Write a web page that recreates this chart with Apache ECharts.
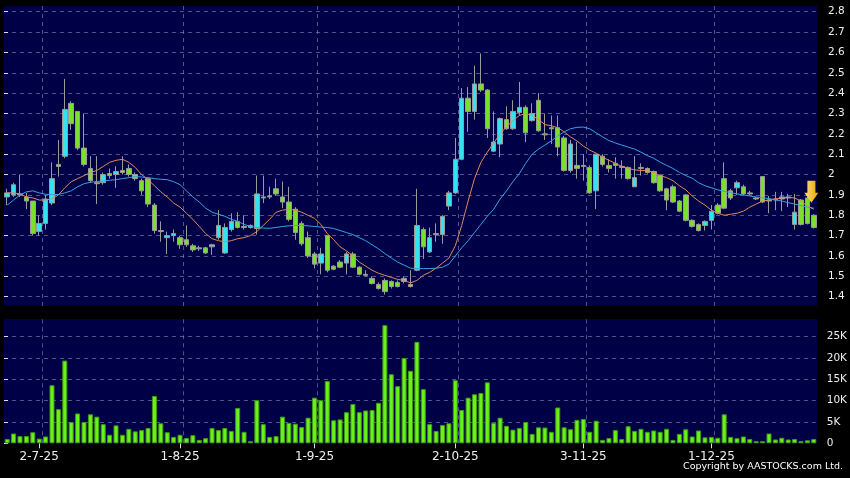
<!DOCTYPE html>
<html>
<head>
<meta charset="utf-8">
<title>Daily chart</title>
<script src="https://cdn.jsdelivr.net/npm/echarts@6.0.0/dist/echarts.min.js"></script>
<style>
html, body { margin: 0; padding: 0; background: #000; }
#main { width: 850px; height: 478px; }
</style>
</head>
<body>
<div id="main"></div>
<script>
// trading days shown on the chart
const dates = [
  '24-6-25', '25-6-25', '26-6-25', '27-6-25', '30-6-25',
  '2-7-25', '3-7-25', '4-7-25', '7-7-25', '8-7-25', '9-7-25', '10-7-25', '11-7-25', '14-7-25', '15-7-25', '16-7-25',
  '17-7-25', '18-7-25', '21-7-25', '22-7-25', '23-7-25', '24-7-25', '25-7-25', '28-7-25', '29-7-25', '30-7-25', '31-7-25',
  '1-8-25', '4-8-25', '5-8-25', '6-8-25', '7-8-25', '8-8-25', '11-8-25', '12-8-25', '13-8-25', '14-8-25', '15-8-25',
  '18-8-25', '19-8-25', '20-8-25', '21-8-25', '22-8-25', '25-8-25', '26-8-25', '27-8-25', '28-8-25', '29-8-25',
  '1-9-25', '2-9-25', '3-9-25', '4-9-25', '5-9-25', '8-9-25', '9-9-25', '10-9-25', '11-9-25', '12-9-25', '15-9-25',
  '16-9-25', '17-9-25', '18-9-25', '19-9-25', '22-9-25', '23-9-25', '24-9-25', '25-9-25', '26-9-25', '29-9-25', '30-9-25',
  '2-10-25', '3-10-25', '6-10-25', '8-10-25', '9-10-25', '10-10-25', '13-10-25', '14-10-25', '15-10-25', '16-10-25',
  '17-10-25', '20-10-25', '21-10-25', '22-10-25', '23-10-25', '24-10-25', '27-10-25', '28-10-25', '30-10-25', '31-10-25',
  '3-11-25', '4-11-25', '5-11-25', '6-11-25', '7-11-25', '10-11-25', '11-11-25', '12-11-25', '13-11-25', '14-11-25',
  '17-11-25', '18-11-25', '19-11-25', '20-11-25', '21-11-25', '24-11-25', '25-11-25', '26-11-25', '27-11-25', '28-11-25',
  '1-12-25', '2-12-25', '3-12-25', '4-12-25', '5-12-25', '8-12-25', '9-12-25', '10-12-25', '11-12-25', '12-12-25',
  '15-12-25', '16-12-25', '17-12-25', '18-12-25', '19-12-25', '22-12-25', '23-12-25'
]

const opens = [
  1.89, 1.90, 1.905, 1.89, 1.87, 1.72, 1.76, 1.86, 2.05, 2.09,
  2.35, 2.31, 2.13, 2.03, 1.96, 1.96, 2.005, 2.00, 2.01, 2.03,
  2.00, 1.97, 1.98, 1.85, 1.725, 1.69, 1.70, 1.69, 1.68, 1.65,
  1.635, 1.64, 1.645, 1.69, 1.615, 1.73, 1.77, 1.745, 1.74, 1.735,
  1.89, 1.895, 1.93, 1.89, 1.865, 1.83, 1.76, 1.69, 1.61, 1.565,
  1.70, 1.55, 1.57, 1.565, 1.61, 1.545, 1.51, 1.49, 1.46, 1.48,
  1.475, 1.47, 1.475, 1.46, 1.53, 1.73, 1.62, 1.71, 1.705, 1.845,
  1.91, 2.075, 2.375, 2.31, 2.445, 2.415, 2.115, 2.15, 2.27, 2.225,
  2.305, 2.33, 2.265, 2.365, 2.20, 2.23, 2.23, 2.18, 2.02, 2.045,
  2.045, 2.035, 1.92, 2.09, 2.045, 2.055, 2.04, 2.035, 1.94, 2.035,
  2.03, 2.015, 1.995, 1.93, 1.94, 1.87, 1.90, 1.775, 1.755, 1.75,
  1.775, 1.85, 1.98, 1.92, 1.935, 1.94, 1.91, 1.885, 1.99, 1.875,
  1.88, 1.88, 1.89, 1.755, 1.875, 1.885, 1.80
]
const closes = [
  1.91, 1.95, 1.90, 1.87, 1.71, 1.76, 1.88, 1.98, 2.04, 2.32,
  2.25, 2.13, 2.05, 1.97, 1.955, 2.00, 1.995, 2.015, 2.02, 2.00,
  1.98, 1.92, 1.855, 1.725, 1.72, 1.70, 1.71, 1.655, 1.655, 1.63,
  1.64, 1.615, 1.655, 1.75, 1.74, 1.77, 1.74, 1.74, 1.75, 1.905,
  1.885, 1.89, 1.905, 1.865, 1.78, 1.715, 1.66, 1.60, 1.56, 1.61,
  1.53, 1.535, 1.545, 1.61, 1.545, 1.51, 1.505, 1.465, 1.44, 1.425,
  1.45, 1.45, 1.49, 1.45, 1.75, 1.645, 1.69, 1.705, 1.795, 1.91,
  2.075, 2.375, 2.31, 2.445, 2.415, 2.225, 2.16, 2.275, 2.225, 2.31,
  2.33, 2.205, 2.30, 2.215, 2.195, 2.225, 2.135, 2.02, 2.15, 2.03,
  2.04, 1.91, 2.10, 2.05, 2.03, 2.045, 2.035, 1.98, 1.985, 2.03,
  2.01, 1.96, 1.92, 1.875, 1.865, 1.82, 1.775, 1.745, 1.725, 1.77,
  1.82, 1.81, 1.835, 1.885, 1.96, 1.905, 1.905, 1.88, 1.865, 1.87,
  1.875, 1.89, 1.885, 1.815, 1.755, 1.76, 1.74
]
const lows = [
  1.85, 1.89, 1.89, 1.83, 1.70, 1.70, 1.73, 1.85, 1.99, 2.08,
  2.22, 2.12, 2.04, 1.96, 1.855, 1.95, 1.98, 1.935, 2.00, 1.99,
  1.97, 1.90, 1.84, 1.71, 1.67, 1.61, 1.67, 1.635, 1.645, 1.62,
  1.625, 1.61, 1.605, 1.68, 1.61, 1.72, 1.735, 1.73, 1.735, 1.705,
  1.86, 1.88, 1.895, 1.835, 1.77, 1.68, 1.65, 1.59, 1.54, 1.51,
  1.52, 1.53, 1.54, 1.51, 1.54, 1.505, 1.50, 1.46, 1.435, 1.41,
  1.44, 1.445, 1.465, 1.445, 1.525, 1.585, 1.615, 1.67, 1.66, 1.825,
  1.905, 2.07, 2.21, 2.27, 2.405, 2.18, 2.11, 2.085, 2.22, 2.22,
  2.29, 2.16, 2.26, 2.21, 2.17, 2.15, 2.09, 2.015, 2.01, 1.98,
  1.97, 1.905, 1.83, 2.04, 2.01, 1.98, 1.98, 1.975, 1.94, 1.995,
  2.005, 1.955, 1.915, 1.825, 1.86, 1.815, 1.77, 1.74, 1.72, 1.725,
  1.73, 1.805, 1.83, 1.875, 1.90, 1.90, 1.90, 1.875, 1.86, 1.81,
  1.825, 1.82, 1.84, 1.73, 1.75, 1.755, 1.735
]
const highs = [
  1.93, 1.96, 2.00, 1.91, 1.87, 1.80, 1.90, 2.06, 2.17, 2.47,
  2.36, 2.31, 2.30, 2.09, 2.09, 2.01, 2.03, 2.04, 2.09, 2.05,
  2.01, 1.98, 1.98, 1.86, 1.77, 1.72, 1.73, 1.70, 1.75, 1.66,
  1.65, 1.645, 1.66, 1.825, 1.76, 1.81, 1.815, 1.80, 1.755, 1.995,
  1.995, 1.94, 1.98, 1.965, 1.94, 1.84, 1.77, 1.72, 1.62, 1.64,
  1.70, 1.555, 1.58, 1.62, 1.62, 1.55, 1.53, 1.50, 1.47, 1.49,
  1.48, 1.48, 1.50, 1.53, 1.93, 1.74, 1.74, 1.76, 1.80, 1.92,
  2.18, 2.425, 2.43, 2.535, 2.595, 2.42, 2.31, 2.28, 2.335, 2.365,
  2.455, 2.34, 2.35, 2.40, 2.30, 2.29, 2.29, 2.19, 2.17, 2.16,
  2.10, 2.045, 2.10, 2.10, 2.075, 2.085, 2.07, 2.04, 2.09, 2.055,
  2.035, 2.02, 2.00, 1.935, 1.95, 1.875, 1.905, 1.78, 1.76, 1.775,
  1.85, 1.86, 2.06, 1.93, 1.97, 1.95, 1.92, 1.89, 1.99, 1.895,
  1.915, 1.915, 1.905, 1.905, 1.88, 1.89, 1.805
]

// moving averages as drawn (orange = short, blue = long)
const maShort = [
  1.91, 1.91, 1.905, 1.89, 1.885, 1.875, 1.875, 1.88, 1.90, 1.935,
  1.965, 1.98, 1.995, 2.01, 2.02, 2.04, 2.06, 2.07, 2.075, 2.06,
  2.035, 2.00, 1.975, 1.945, 1.915, 1.89, 1.86, 1.84, 1.81, 1.78,
  1.745, 1.71, 1.685, 1.675, 1.67, 1.675, 1.685, 1.69, 1.70, 1.72,
  1.75, 1.78, 1.815, 1.825, 1.83, 1.825, 1.815, 1.80, 1.785, 1.755,
  1.71, 1.68, 1.645, 1.625, 1.60, 1.57, 1.55, 1.53, 1.515, 1.505,
  1.495, 1.485, 1.48, 1.468, 1.48, 1.505, 1.52, 1.54, 1.565, 1.59,
  1.65, 1.75, 1.87, 1.98, 2.06, 2.11, 2.155, 2.20, 2.235, 2.265,
  2.29, 2.30, 2.29, 2.27, 2.245, 2.24, 2.23, 2.21, 2.185, 2.165,
  2.14, 2.12, 2.105, 2.085, 2.07, 2.055, 2.04, 2.03, 2.023, 2.02,
  2.02, 2.01, 1.995, 1.985, 1.97, 1.945, 1.925, 1.895, 1.87, 1.85,
  1.825, 1.81, 1.80, 1.805, 1.81, 1.82, 1.84, 1.855, 1.87, 1.875,
  1.88, 1.885, 1.887, 1.885, 1.87, 1.845, 1.83
]
const maLong = [
  1.85, 1.875, 1.90, 1.915, 1.92, 1.91, 1.903, 1.902, 1.902, 1.91,
  1.92, 1.94, 1.955, 1.962, 1.966, 1.968, 1.972, 1.975, 1.98, 1.985,
  1.99, 1.988, 1.985, 1.98, 1.977, 1.975, 1.965, 1.95, 1.92, 1.89,
  1.865, 1.835, 1.815, 1.805, 1.795, 1.78, 1.77, 1.755, 1.745, 1.74,
  1.737, 1.736, 1.74, 1.745, 1.748, 1.75, 1.75, 1.748, 1.745, 1.742,
  1.74, 1.735, 1.725, 1.715, 1.705, 1.69, 1.675, 1.655, 1.635, 1.612,
  1.59, 1.57, 1.555, 1.54, 1.538, 1.538, 1.538, 1.54, 1.545, 1.56,
  1.60, 1.64, 1.675, 1.715, 1.755, 1.795, 1.83, 1.88, 1.92, 1.965,
  2.005, 2.055, 2.10, 2.125, 2.145, 2.165, 2.19, 2.21, 2.225, 2.232,
  2.233, 2.225, 2.205, 2.185, 2.167, 2.155, 2.145, 2.135, 2.125, 2.11,
  2.093, 2.08, 2.061, 2.045, 2.03, 2.011, 1.995, 1.982, 1.96, 1.945,
  1.935, 1.925, 1.917, 1.912, 1.905, 1.90, 1.895, 1.89, 1.886, 1.882,
  1.876, 1.87, 1.862, 1.855, 1.848, 1.84, 1.835
]

const volumes = [
  1000, 2300, 1700, 1700, 2600, 1100, 1600, 13600, 8000, 19400,
  5000, 7000, 5000, 6800, 6250, 4500, 2000, 4200, 2000, 3400,
  2800, 3100, 3600, 11100, 4700, 2600, 1500, 2000, 1250, 1900,
  800, 1200, 3600, 3100, 3600, 2900, 8300, 2700, 500, 10100,
  4500, 1500, 1700, 6250, 4800, 4600, 3800, 6000, 10700, 10100,
  14600, 5400, 5600, 7300, 9200, 7300, 7700, 7800, 9500, 27700,
  16200, 13400, 20000, 17000, 23800, 12700, 4500, 2900, 4300, 4700,
  14800, 7800, 10700, 11500, 11800, 14300, 4800, 6000, 4100, 3200,
  3600, 5000, 2200, 3750, 3700, 2700, 8400, 3750, 3300, 5500,
  5700, 2700, 5300, 800, 1250, 3100, 1000, 4000, 2900, 3400,
  2700, 3000, 2700, 3400, 800, 2200, 3300, 1600, 3000, 1400,
  1500, 1300, 6800, 1500, 1200, 1600, 1000, 500, 500, 2300,
  900, 1300, 900, 1000, 500, 700, 1000
]

// labelled dates on the time axis
const monthLabels = ['2-7-25', '1-8-25', '1-9-25', '2-10-25', '3-11-25', '1-12-25']
// yellow arrow marker
const arrowAt = ['22-12-25', 1.915]

const navy = '#000046'
const gridLine = { color: 'rgba(150,150,200,0.55)', width: 1, type: [4, 4] }
const isMonth = (idx) => monthLabels.indexOf(dates[idx]) >= 0

const candles = dates.map((d, i) => [opens[i], closes[i], lows[i], highs[i]])
const monthLines = monthLabels.map(m => ({ xAxis: dates.indexOf(m) + 0.5 }))

const chart = echarts.init(document.getElementById('main'))
chart.setOption({
  animation: false,
  backgroundColor: '#000',
  title: {
    text: 'Copyright by AASTOCKS.com Ltd.',
    right: 2,
    bottom: 1,
    textStyle: { color: '#fff', fontSize: 9.5, fontWeight: 'normal', fontFamily: 'DejaVu Sans' }
  },
  grid: [
    { left: 4, top: 6, width: 813, height: 300, show: true, backgroundColor: navy, borderWidth: 0 }, // price panel
    { left: 4, top: 11.7, width: 813, height: 285 }, // price scale
    { left: 4, top: 319, width: 813, height: 124.3, show: true, backgroundColor: navy, borderWidth: 0 }, // volume panel
    { left: 4, top: 336.7, width: 813, height: 106.6 } // volume scale
  ],
  xAxis: [
    { type: 'category', gridIndex: 0, data: dates, show: false },
    { type: 'value', gridIndex: 1, min: 0, max: 1, show: false },
    {
      type: 'category',
      gridIndex: 2,
      data: dates,
      axisLine: { show: false },
      axisTick: { show: true, alignWithLabel: true, interval: isMonth, length: 5, lineStyle: { color: '#ddd' } },
      axisLabel: { interval: isMonth, color: '#eee', fontSize: 12, fontFamily: 'DejaVu Sans', margin: 8 },
      splitLine: { show: false }
    },
    { type: 'value', gridIndex: 3, min: 0, max: 1, show: false },
    { type: 'value', gridIndex: 0, min: -0.5, max: dates.length - 0.5, show: false },
    { type: 'value', gridIndex: 2, min: -0.5, max: dates.length - 0.5, show: false }
  ],
  yAxis: [
    { type: 'value', gridIndex: 0, min: 1.3543, max: 2.828, show: false },
    {
      type: 'value',
      gridIndex: 1,
      position: 'right',
      min: 1.4,
      max: 2.8,
      interval: 0.1,
      offset: 4,
      axisLine: { show: false },
      axisTick: { show: true, length: 4, lineStyle: { color: '#ddd' } },
      axisLabel: { color: '#eee', fontSize: 10.5, fontFamily: 'DejaVu Sans', margin: 7 },
      splitLine: { show: true, lineStyle: gridLine }
    },
    { type: 'value', gridIndex: 2, min: 0, max: 29150, show: false },
    {
      type: 'value',
      gridIndex: 3,
      position: 'right',
      min: 0,
      max: 25000,
      interval: 5000,
      offset: 4,
      axisLine: { show: false },
      axisTick: { show: true, length: 4, lineStyle: { color: '#ddd' } },
      axisLabel: {
        color: '#eee',
        fontSize: 10.5,
        fontFamily: 'DejaVu Sans',
        margin: 7,
        formatter: v => v === 0 ? '0' : (v / 1000) + 'K'
      },
      splitLine: { show: true, showMinLine: false, lineStyle: gridLine }
    }
  ],
  series: [
    {
      type: 'line',
      xAxisIndex: 4,
      yAxisIndex: 0,
      data: [],
      silent: true,
      z: 1,
      markLine: { symbol: ['none', 'none'], silent: true, label: { show: false }, lineStyle: gridLine, data: monthLines }
    },
    {
      type: 'line',
      xAxisIndex: 5,
      yAxisIndex: 2,
      data: [],
      silent: true,
      z: 1,
      markLine: { symbol: ['none', 'none'], silent: true, label: { show: false }, lineStyle: gridLine, data: monthLines }
    },
    {
      name: 'price',
      type: 'candlestick',
      xAxisIndex: 0,
      yAxisIndex: 0,
      data: candles,
      barWidth: 5,
      z: 3,
      itemStyle: {
        color: '#33e4f0', // up
        color0: '#7ae02a', // down
        borderColor: '#9a9a9a',
        borderColor0: '#9a9a9a',
        borderWidth: 1
      },
      markPoint: {
        silent: true,
        label: { show: false },
        data: [{
          coord: arrowAt,
          symbol: 'path://M3,0 L11,0 L11,12 L14,12 L7,22 L0,12 L3,12 Z',
          symbolSize: [14, 22],
          symbolOffset: [4, 0],
          itemStyle: {
            color: new echarts.graphic.LinearGradient(0, 0, 1, 0, [
              { offset: 0, color: '#ffe27a' },
              { offset: 1, color: '#e8a400' }
            ])
          }
        }]
      }
    },
    {
      name: 'ma short',
      type: 'line',
      xAxisIndex: 0,
      yAxisIndex: 0,
      data: maShort,
      showSymbol: false,
      z: 4,
      lineStyle: { color: '#dc8a5c', width: 1 }
    },
    {
      name: 'ma long',
      type: 'line',
      xAxisIndex: 0,
      yAxisIndex: 0,
      data: maLong,
      showSymbol: false,
      z: 4,
      lineStyle: { color: '#3d9fe6', width: 1 }
    },
    {
      name: 'volume',
      type: 'bar',
      xAxisIndex: 2,
      yAxisIndex: 2,
      data: volumes,
      barWidth: 5,
      z: 3,
      itemStyle: { color: '#6af01a', borderColor: '#3c9c10', borderWidth: 1 }
    }
  ]
})
window.onresize = function () {
  chart.resize()
}
</script>
</body>
</html>
